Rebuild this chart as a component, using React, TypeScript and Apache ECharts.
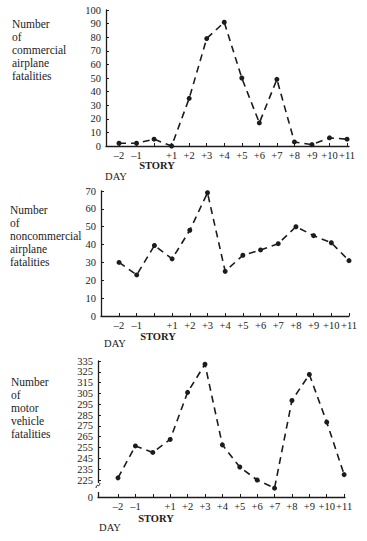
import React, { useEffect, useRef } from "react";
import * as echarts from "echarts";

const days = [-2, -1, 0, 1, 2, 3, 4, 5, 6, 7, 8, 9, 10, 11];
const commercial = [2, 2, 5, 0, 35, 79, 91, 50, 17, 49, 3, 1, 6, 5];
const noncommercial = [30, 23, 39.5, 32, 48, 69, 25, 34, 37, 40.5, 50, 45, 41, 31];
const motor = [227, 256.5, 250.5, 262.5, 306, 332, 257.5, 237, 225, 217.5, 298.5, 322.5, 278.5, 230];
const motorTicks = [225, 235, 245, 255, 265, 275, 285, 295, 305, 315, 325, 335];
const motorFloor = 209.3;

const panelTitles = [
  ["Number", "of", "commercial", "airplane", "fatalities"],
  ["Number", "of", "noncommercial", "airplane", "fatalities"],
  ["Number", "of", "motor", "vehicle", "fatalities"],
];

const FONT = "Liberation Serif";
const INK = "#1c1c1c";

function dayLabel(v: number) {
  if (v === 0) return "";
  if (v < 0) return "\u2013" + Math.abs(v);
  return "+" + v;
}

export default function App() {
  const ref = useRef<HTMLDivElement>(null);
  useEffect(() => {
    if (!ref.current) return;
    const chart = echarts.init(ref.current, null, { renderer: "svg" });

    const grids = [
      { left: 106, top: 10, width: 243, height: 136 },
      { left: 101, top: 191, width: 248, height: 125 },
      { left: 98, top: 361, width: 247, height: 136 },
    ];
    const xRanges = [
      [-2.74, 11.11],
      [-3.02, 11.0],
      [-3.15, 11.05],
    ];

    const xAxes = grids.map((_, i) => ({
      type: "value",
      gridIndex: i,
      min: xRanges[i][0],
      max: xRanges[i][1],
      splitLine: { show: false },
      axisLine: { show: true, onZero: false, lineStyle: { color: INK, width: 1.3 } },
      axisTick: {
        show: true,
        inside: true,
        length: 3,
        customValues: days,
        lineStyle: { color: INK, width: 1 },
      },
      axisLabel: {
        show: true,
        customValues: days,
        formatter: (v: number) => dayLabel(v),
        fontFamily: FONT,
        fontSize: 10.5,
        color: INK,
        margin: 4,
      },
    }));

    const yCommon = {
      type: "value",
      splitLine: { show: false },
      axisLine: { show: true, onZero: false, lineStyle: { color: INK, width: 1.3 } },
      axisTick: { show: true, inside: true, length: 3, lineStyle: { color: INK, width: 1 } },
      axisLabel: { fontFamily: FONT, fontSize: 10.5, color: INK, margin: 5 },
    };

    const yAxes = [
      { ...yCommon, gridIndex: 0, min: 0, max: 100, interval: 10 },
      { ...yCommon, gridIndex: 1, min: 0, max: 70, interval: 10 },
      {
        ...yCommon,
        gridIndex: 2,
        min: motorFloor,
        max: 335,
        axisTick: { ...yCommon.axisTick, customValues: motorTicks },
        axisLabel: {
          ...yCommon.axisLabel,
          customValues: [motorFloor, ...motorTicks],
          formatter: (v: number) => (Math.abs(v - motorFloor) < 0.01 ? "0" : String(v)),
        },
      },
    ];

    const datasets = [commercial, noncommercial, motor];
    const series = datasets.map((vals, i) => ({
      type: "line",
      xAxisIndex: i,
      yAxisIndex: i,
      data: days.map((d, k) => [d, vals[k]]),
      symbol: "circle",
      symbolSize: 5,
      itemStyle: { color: INK },
      lineStyle: { color: INK, width: 1.6, type: [7, 5] },
    }));

    const titleTops = [17, 203, 375];
    const titleLefts = [12, 10, 11];
    const graphic: any[] = [];
    panelTitles.forEach((lines, i) => {
      graphic.push({
        type: "text",
        left: titleLefts[i],
        top: titleTops[i],
        style: {
          text: lines.join("\n"),
          font: `11.5px "${FONT}"`,
          lineHeight: 13,
          fill: INK,
        },
      });
    });
    const storyPos = [
      [157, 165],
      [158, 336],
      [156, 518],
    ];
    const dayPos = [
      [116, 176],
      [115, 343],
      [110, 527],
    ];
    storyPos.forEach(([x, y]) => {
      graphic.push({
        type: "text",
        x,
        y,
        style: {
          text: "STORY",
          font: `bold 10.5px "${FONT}"`,
          fill: INK,
          align: "center",
          verticalAlign: "middle",
        },
      });
    });
    dayPos.forEach(([x, y]) => {
      graphic.push({
        type: "text",
        x,
        y,
        style: {
          text: "DAY",
          font: `10.5px "${FONT}"`,
          fill: INK,
          align: "center",
          verticalAlign: "middle",
        },
      });
    });
    // axis break on the motor vehicle panel
    graphic.push({
      type: "rect",
      shape: { x: 95, y: 483, width: 6, height: 9 },
      style: { fill: "#fff" },
      z: 100,
    });
    graphic.push({
      type: "bezierCurve",
      shape: { x1: 96, y1: 488, cpx1: 97, cpy1: 482, cpx2: 99, cpy2: 489, x2: 100, y2: 483 },
      style: { stroke: INK, lineWidth: 1, fill: null },
      z: 101,
    });

    chart.setOption({
      animation: false,
      backgroundColor: "#fff",
      grid: grids.map((g) => ({ ...g, containLabel: false, outerBoundsMode: "none" })),
      xAxis: xAxes,
      yAxis: yAxes,
      series,
      graphic,
    });
    return () => chart.dispose();
  }, []);
  return (
    <div
      ref={ref}
      style={{ position: "fixed", left: 0, top: 0, width: 367, height: 541, background: "#fff" }}
    />
  );
}
